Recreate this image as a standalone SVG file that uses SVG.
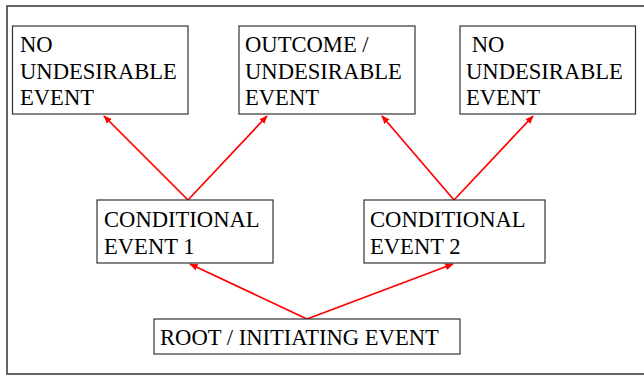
<svg xmlns="http://www.w3.org/2000/svg" width="644" height="375" viewBox="0 0 644 375">
  <style>
    .box { fill: #fff; stroke: #333; stroke-width: 1.2; }
    .lbl { font-family: "Liberation Serif", "Times New Roman", serif; font-size: 22.6px; fill: #000; }
    .edge { stroke: #f00; stroke-width: 1.7; fill: none; marker-end: url(#arrow); }
  </style>
  <defs>
    <marker id="arrow" viewBox="0 0 10 10" refX="9" refY="5" markerWidth="5" markerHeight="5" orient="auto" markerUnits="strokeWidth">
      <path d="M0,1 L10,5 L0,9 z" fill="#f00"/>
    </marker>
  </defs>
  <rect width="644" height="375" fill="#fff"/>
  <!-- outer frame -->
  <rect x="7" y="6" width="645" height="368" fill="none" stroke="#333" stroke-width="1.5"/>

  <g id="connectors">
    <line class="edge" x1="307" y1="319" x2="190" y2="264"/>
    <line class="edge" x1="307" y1="319" x2="453" y2="264"/>
    <line class="edge" x1="188" y1="200" x2="104" y2="116"/>
    <line class="edge" x1="188" y1="200" x2="267" y2="116"/>
    <line class="edge" x1="454" y1="200" x2="382" y2="116"/>
    <line class="edge" x1="454" y1="200" x2="533" y2="116"/>
  </g>

  <g id="no-undesirable-1">
    <rect class="box" x="12.5" y="26" width="175.5" height="88"/>
    <text class="lbl" x="20" y="52">NO</text>
    <text class="lbl" x="20" y="79">UNDESIRABLE</text>
    <text class="lbl" x="20" y="105">EVENT</text>
  </g>
  <g id="outcome-undesirable">
    <rect class="box" x="239" y="26" width="176" height="88"/>
    <text class="lbl" x="245" y="52">OUTCOME /</text>
    <text class="lbl" x="245" y="79">UNDESIRABLE</text>
    <text class="lbl" x="245" y="105">EVENT</text>
  </g>
  <g id="no-undesirable-2">
    <rect class="box" x="460" y="26" width="175.5" height="88"/>
    <text class="lbl" x="466" y="52" xml:space="preserve"> NO</text>
    <text class="lbl" x="466" y="79">UNDESIRABLE</text>
    <text class="lbl" x="466" y="105">EVENT</text>
  </g>
  <g id="conditional-1">
    <rect class="box" x="97" y="200" width="176" height="63"/>
    <text class="lbl" x="104" y="227">CONDITIONAL</text>
    <text class="lbl" x="104" y="254">EVENT 1</text>
  </g>
  <g id="conditional-2">
    <rect class="box" x="364" y="200" width="181" height="63"/>
    <text class="lbl" x="370" y="227">CONDITIONAL</text>
    <text class="lbl" x="370" y="254">EVENT 2</text>
  </g>
  <g id="root">
    <rect class="box" x="154" y="319" width="306" height="35"/>
    <text class="lbl" x="160" y="345">ROOT / INITIATING EVENT</text>
  </g>
</svg>
